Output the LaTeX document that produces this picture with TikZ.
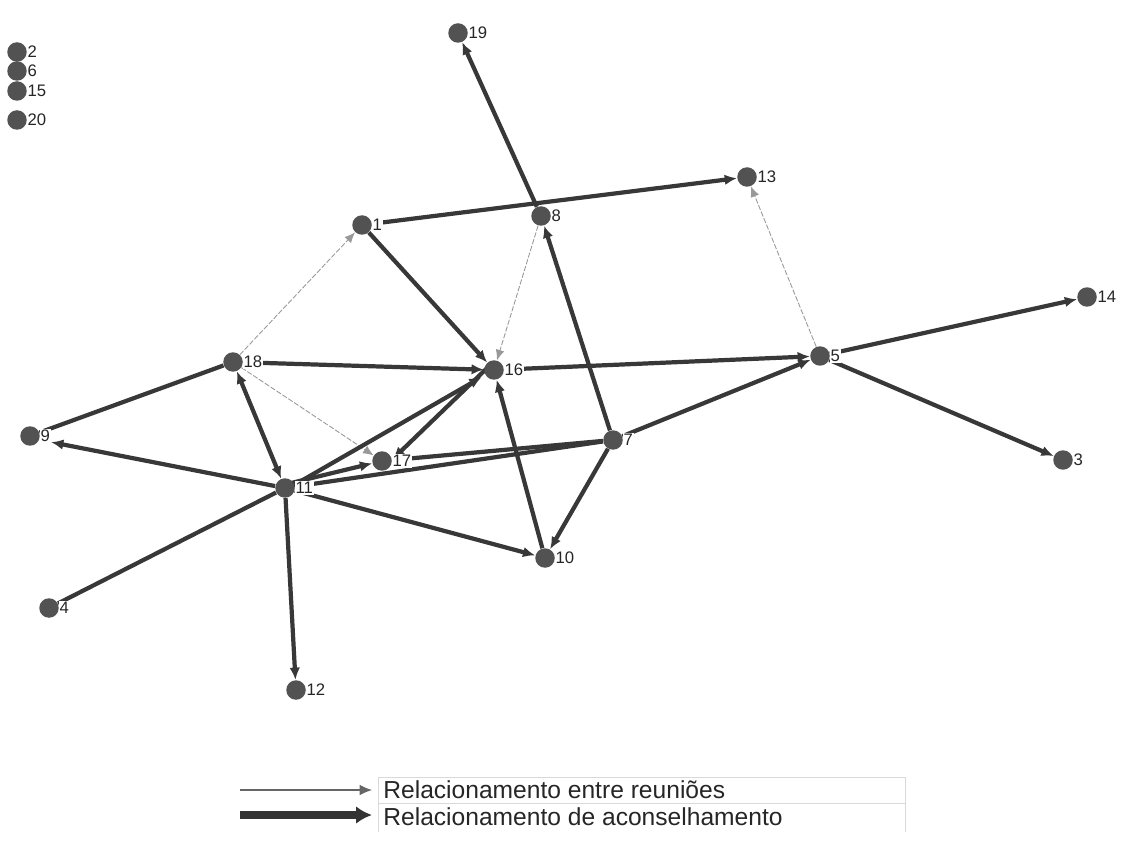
\documentclass[tikz,border=0pt]{standalone}
\usepackage{fontspec}
\setmainfont{Liberation Sans}
\usetikzlibrary{arrows.meta,backgrounds}
\begin{document}
\begin{tikzpicture}[x=0.02cm,y=-0.02cm,
  v/.style={circle,fill=black!68,inner sep=0pt,minimum size=0.39cm,
    label={[font=\fontsize{9.5}{11}\selectfont,text=black!85,fill=white,inner sep=0.6pt,label distance=-0.5pt]right:#1}},
  adv/.style={line width=2.4pt,draw=black!78,-{Latex[length=7pt,width=6pt]}},
  advb/.style={line width=2.4pt,draw=black!78,{Latex[length=7pt,width=6pt]}-{Latex[length=7pt,width=6pt]}},
  advp/.style={line width=2.4pt,draw=black!78},
  meet/.style={line width=0.5pt,draw=black!40,dash pattern=on 3pt off 1pt,-{Latex[length=6pt,width=5pt]}}]
\useasboundingbox (0,0) rectangle (1121,847);
% nodes
\node[v=2]  (n2)  at (17,52) {};
\node[v=6]  (n6)  at (17,71) {};
\node[v=15] (n15) at (17,91) {};
\node[v=20] (n20) at (17,120) {};
\node[v=19] (n19) at (458,33) {};
\node[v=13] (n13) at (747,177) {};
\node[v=1]  (n1)  at (362,225) {};
\node[v=8]  (n8)  at (541,216) {};
\node[v=14] (n14) at (1087,297) {};
\node[v=18] (n18) at (233,362) {};
\node[v=16] (n16) at (494,370) {};
\node[v=5]  (n5)  at (820,356) {};
\node[v=9]  (n9)  at (30,436) {};
\node[v=17] (n17) at (382,461) {};
\node[v=7]  (n7)  at (613,440) {};
\node[v=3]  (n3)  at (1063,460) {};
\node[v=11] (n11) at (285,488) {};
\node[v=10] (n10) at (545,558) {};
\node[v=4]  (n4)  at (49,608) {};
\node[v=12] (n12) at (296,690) {};
\begin{scope}[on background layer]
% meeting relations (thin)
\draw[meet] (n8) -- (n16);
\draw[meet] (n18) -- (n1);
\draw[meet] (n5) -- (n13);
\draw[meet] (n18) -- (n17);
% advice relations (thick)
\draw[adv] (n8) -- (n19);
\draw[adv] (n1) -- (n13);
\draw[adv] (n1) -- (n16);
\draw[adv] (n7) -- (n8);
\draw[adv] (n18) -- (n16);
\draw[adv] (n16) -- (n5);
\draw[adv] (n5) -- (n14);
\draw[adv] (n5) -- (n3);
\draw[adv] (n7) -- (n5);
\draw[advp] (n18) -- (n9);
\draw[advb] (n11) -- (n18);
\draw[advp] (n4) -- (n11);
\draw[adv] (n11) -- (n12);
\draw[adv] ([yshift=2pt]n11.center) -- (n17);
\draw[adv] ([xshift=-3pt,yshift=2pt]n16.center) -- ([xshift=2pt,yshift=-3pt]n17.north east);
\draw[adv] ([yshift=-3pt]n11.north east) -- ([xshift=-3pt]n16.south west);
\draw[advp] (n7) -- (n17);
\draw[advp] (n11) -- (n7);
\draw[adv] (n11) -- (n10);
\draw[adv] (n10) -- (n16);
\draw[adv] (n7) -- (n10);
\end{scope}
\draw[adv] (n11) -- ([xshift=12pt,yshift=-3.5pt]n9.center);
% legend
\coordinate (la1) at (240,790);
\coordinate (la2) at (372,790);
\coordinate (lb1) at (240,815);
\coordinate (lb2) at (372,815);
\draw[line width=0.6pt,draw=black!60,-{Latex[length=7pt,width=6pt]}] (la1) -- (la2);
\draw[line width=4pt,draw=black!80,-{Latex[length=9pt,width=10pt]}] (lb1) -- (lb2);
\draw[draw=black!15,line width=0.4pt] (378,777) rectangle (905,803);
\draw[draw=black!15,line width=0.4pt] (378,803) -- (378,832) (905,803) -- (905,832);
\node[anchor=west,font=\fontsize{14}{16}\selectfont,text=black!85,inner sep=0pt] (lt1) at (383,790) {Relacionamento entre reuniões};
\node[anchor=west,font=\fontsize{14}{16}\selectfont,text=black!85,inner sep=0pt] (lt2) at (383,817) {Relacionamento de aconselhamento};
\end{tikzpicture}
\end{document}
